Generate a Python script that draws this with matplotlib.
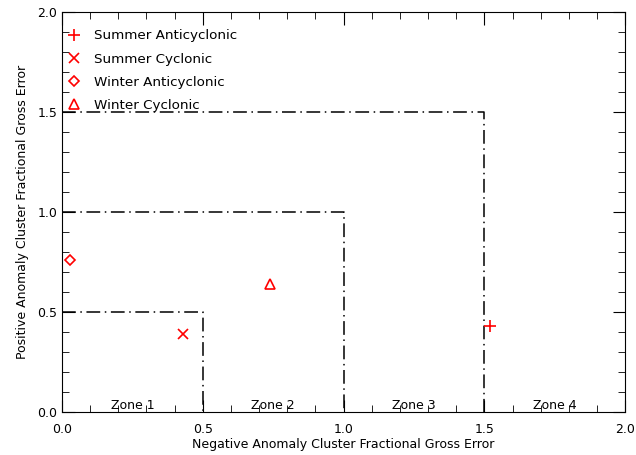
import matplotlib
matplotlib.use("Agg")
import matplotlib.pyplot as plt
from matplotlib.ticker import MultipleLocator, FormatStrFormatter

# cluster scores
labels = ["Summer Anticyclonic", "Summer Cyclonic", "Winter Anticyclonic", "Winter Cyclonic"]
neg_err = [1.52, 0.43, 0.03, 0.74]
pos_err = [0.43, 0.39, 0.76, 0.64]
markers = ["+", "x", "D", "^"]
sizes = [8, 7, 5.5, 7.5]

zone_edges = [0.5, 1.0, 1.5]
zone_names = ["Zone 1", "Zone 2", "Zone 3", "Zone 4"]
zone_centers = [0.25, 0.75, 1.25, 1.75]

plt.rcParams["font.family"] = "DejaVu Sans"
fig = plt.figure(figsize=(6.36, 4.55), dpi=100)
ax = fig.add_axes([0.0975, 0.0945, 0.8855, 0.879])

# zone boundaries
for e in zone_edges:
    ax.plot([0, e, e], [e, e, 0], color="black", lw=1.1, ls=(0, (9, 3, 1, 3)))

for name, c in zip(zone_names, zone_centers):
    ax.text(c, 0.035, name, ha="center", va="center", fontsize=9)

for lab, x, y, m, s in zip(labels, neg_err, pos_err, markers, sizes):
    ax.plot(x, y, ls="none", marker=m, color="red", ms=s, mew=1.2,
            markerfacecolor="none", label=lab)

ax.legend(loc="upper left", bbox_to_anchor=(-0.005, 0.98), frameon=False,
          fontsize=9.7, handletextpad=1.1, borderaxespad=0.3,
          labelspacing=0.76, handlelength=0.8)

ax.set_xlim(0, 2)
ax.set_ylim(0, 2)
ax.xaxis.set_major_locator(MultipleLocator(0.5))
ax.yaxis.set_major_locator(MultipleLocator(0.5))
ax.xaxis.set_minor_locator(MultipleLocator(0.1))
ax.yaxis.set_minor_locator(MultipleLocator(0.1))
ax.xaxis.set_major_formatter(FormatStrFormatter("%.1f"))
ax.yaxis.set_major_formatter(FormatStrFormatter("%.1f"))
ax.tick_params(which="both", direction="in", top=True, right=True, labelsize=9)
ax.tick_params(which="major", length=9)
ax.tick_params(which="minor", length=5)
ax.tick_params(axis="x", pad=8)

ax.set_xlabel("Negative Anomaly Cluster Fractional Gross Error", fontsize=9, labelpad=1)
ax.set_ylabel("Positive Anomaly Cluster Fractional Gross Error", fontsize=9, labelpad=6)

fig.savefig("out.png", dpi=100)
